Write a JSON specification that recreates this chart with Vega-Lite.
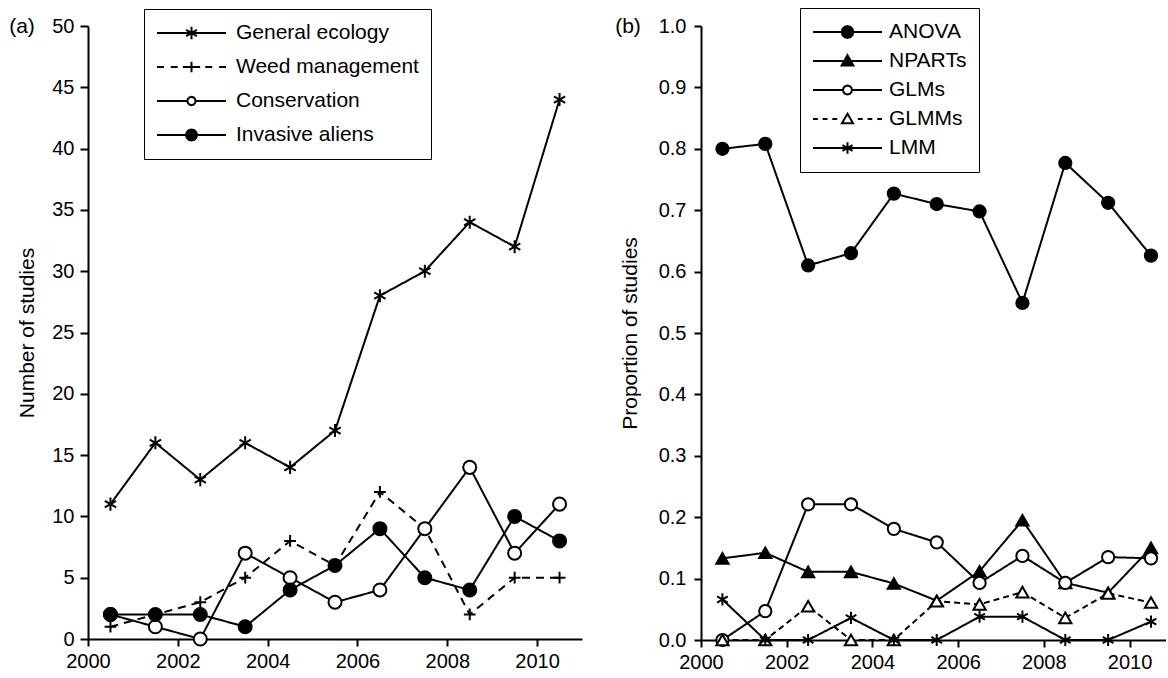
{
  "$schema": "https://vega.github.io/schema/vega-lite/v6.json",
  "padding": {"left": 9, "top": 7, "right": 0, "bottom": 0},
  "spacing": 33,
  "resolve": {"scale": {"x": "independent", "y": "independent", "shape": "independent", "fill": "independent", "strokeDash": "independent", "opacity": "independent"}, "legend": {"shape": "independent", "fill": "independent", "strokeDash": "independent", "opacity": "independent"}},
  "config": {
    "view": {"stroke": null},
    "font": "Liberation Sans",
    "axis": {"domainColor": "black", "domainWidth": 2, "tickColor": "black", "tickWidth": 2, "grid": false, "labelFont": "Liberation Sans", "labelFontSize": 20, "labelColor": "black", "titleFont": "Liberation Sans", "titleFontSize": 21, "titleFontWeight": "normal", "titleColor": "black", "labelOverlap": false},
    "legend": {"strokeColor": "black", "fillColor": "white", "padding": 12, "labelFont": "Liberation Sans", "labelFontSize": 21, "labelColor": "black", "symbolSize": 4761, "symbolStrokeWidth": 2, "symbolStrokeColor": "black", "symbolOpacity": 1, "clipHeight": 24, "labelLimit": 400}
  },
  "hconcat": [
    {
      "width": 494,
      "height": 613,
      "title": {"text": "(a)", "anchor": "start", "frame": "group", "align": "center", "baseline": "middle", "dx": -66, "offset": -39, "fontSize": 21, "font": "Liberation Sans", "fontWeight": "normal", "color": "black"},
      "data": {"values": [
        {"year": 2000.5, "n": 11, "topic": "General ecology"},
        {"year": 2001.5, "n": 16, "topic": "General ecology"},
        {"year": 2002.5, "n": 13, "topic": "General ecology"},
        {"year": 2003.5, "n": 16, "topic": "General ecology"},
        {"year": 2004.5, "n": 14, "topic": "General ecology"},
        {"year": 2005.5, "n": 17, "topic": "General ecology"},
        {"year": 2006.5, "n": 28, "topic": "General ecology"},
        {"year": 2007.5, "n": 30, "topic": "General ecology"},
        {"year": 2008.5, "n": 34, "topic": "General ecology"},
        {"year": 2009.5, "n": 32, "topic": "General ecology"},
        {"year": 2010.5, "n": 44, "topic": "General ecology"},
        {"year": 2000.5, "n": 1, "topic": "Weed management"},
        {"year": 2001.5, "n": 2, "topic": "Weed management"},
        {"year": 2002.5, "n": 3, "topic": "Weed management"},
        {"year": 2003.5, "n": 5, "topic": "Weed management"},
        {"year": 2004.5, "n": 8, "topic": "Weed management"},
        {"year": 2005.5, "n": 6, "topic": "Weed management"},
        {"year": 2006.5, "n": 12, "topic": "Weed management"},
        {"year": 2007.5, "n": 9, "topic": "Weed management"},
        {"year": 2008.5, "n": 2, "topic": "Weed management"},
        {"year": 2009.5, "n": 5, "topic": "Weed management"},
        {"year": 2010.5, "n": 5, "topic": "Weed management"},
        {"year": 2000.5, "n": 2, "topic": "Conservation"},
        {"year": 2001.5, "n": 1, "topic": "Conservation"},
        {"year": 2002.5, "n": 0, "topic": "Conservation"},
        {"year": 2003.5, "n": 7, "topic": "Conservation"},
        {"year": 2004.5, "n": 5, "topic": "Conservation"},
        {"year": 2005.5, "n": 3, "topic": "Conservation"},
        {"year": 2006.5, "n": 4, "topic": "Conservation"},
        {"year": 2007.5, "n": 9, "topic": "Conservation"},
        {"year": 2008.5, "n": 14, "topic": "Conservation"},
        {"year": 2009.5, "n": 7, "topic": "Conservation"},
        {"year": 2010.5, "n": 11, "topic": "Conservation"},
        {"year": 2000.5, "n": 2, "topic": "Invasive aliens"},
        {"year": 2001.5, "n": 2, "topic": "Invasive aliens"},
        {"year": 2002.5, "n": 2, "topic": "Invasive aliens"},
        {"year": 2003.5, "n": 1, "topic": "Invasive aliens"},
        {"year": 2004.5, "n": 4, "topic": "Invasive aliens"},
        {"year": 2005.5, "n": 6, "topic": "Invasive aliens"},
        {"year": 2006.5, "n": 9, "topic": "Invasive aliens"},
        {"year": 2007.5, "n": 5, "topic": "Invasive aliens"},
        {"year": 2008.5, "n": 4, "topic": "Invasive aliens"},
        {"year": 2009.5, "n": 10, "topic": "Invasive aliens"},
        {"year": 2010.5, "n": 8, "topic": "Invasive aliens"}
      ]},
      "encoding": {
        "x": {"field": "year", "type": "quantitative", "scale": {"domain": [2000, 2011], "nice": false, "zero": false},
              "axis": {"values": [2000, 2002, 2004, 2006, 2008, 2010], "format": "d", "title": null, "tickSize": 7, "labelPadding": 5, "labelFlush": false}},
        "y": {"field": "n", "type": "quantitative", "scale": {"domain": [0, 50], "nice": false},
              "axis": {"values": [0, 5, 10, 15, 20, 25, 30, 35, 40, 45, 50], "title": "Number of studies", "tickSize": 8, "labelPadding": 6, "titlePadding": 14}}
      },
      "layer": [
        {
          "mark": {"type": "line", "stroke": "black", "strokeWidth": 2},
          "encoding": {
            "strokeDash": {"field": "topic", "type": "nominal", "scale": {"domain": ["General ecology", "Weed management", "Conservation", "Invasive aliens"], "range": [[1, 0], [8, 6], [1, 0], [1, 0]]}, "legend": null}
          }
        },
        {
          "mark": {"type": "point", "filled": true, "stroke": "black", "strokeWidth": 2, "size": 170},
          "encoding": {
            "shape": {"field": "topic", "type": "nominal",
              "scale": {"domain": ["General ecology", "Weed management", "Conservation", "Invasive aliens"], "range": ["M0,-1V1M-0.87,-0.5L0.87,0.5M-0.87,0.5L0.87,-0.5", "M-0.9,0H0.9M0,-0.9V0.9", "circle", "circle"]}, "legend": null},
            "fill": {"field": "topic", "type": "nominal", "scale": {"domain": ["General ecology", "Weed management", "Conservation", "Invasive aliens"], "range": ["black", "black", "white", "black"]}, "legend": null},
            "opacity": {"field": "topic", "type": "nominal", "sort": ["General ecology", "Weed management", "Conservation", "Invasive aliens"], "scale": {"range": [1, 1, 1, 1]},
              "legend": {
                "title": null,
                "orient": "none", "legendX": 56, "legendY": -17, "labelOffset": 9, "rowPadding": 10,
                "symbolSize": 4761, "symbolStrokeWidth": 2, "symbolStrokeColor": "black", "symbolOpacity": 1,
                "symbolType": {"expr": "datum.value === 'General ecology' ? 'M-1,0H1M0,-0.18V0.18M-0.156,-0.09L0.156,0.09M-0.156,0.09L0.156,-0.09' : datum.value === 'Weed management' ? 'M-1,0H-0.8M-0.6,0H-0.4M-0.25,0H0.25M0,-0.15V0.15M0.4,0H0.6M0.8,0H1' : datum.value === 'Conservation' ? 'M-1,0H-0.12M0.12,0H1M0.12,0L0.104,0.06L0.06,0.104L0,0.12L-0.06,0.104L-0.104,0.06L-0.12,0L-0.104,-0.06L-0.06,-0.104L0,-0.12L0.06,-0.104L0.104,-0.06Z' : 'M-1,0H1M0.16,0L0.139,0.08L0.08,0.139L0,0.16L-0.08,0.139L-0.139,0.08L-0.16,0L-0.139,-0.08L-0.08,-0.139L0,-0.16L0.08,-0.139L0.139,-0.08Z'"},
                "symbolFillColor": {"expr": "datum.value === 'Conservation' ? 'white' : 'black'"}
              }}
          }
        }
      ]
    },
    {
      "width": 465,
      "height": 614,
      "title": {"text": "(b)", "anchor": "start", "frame": "group", "align": "center", "baseline": "middle", "dx": -73, "offset": -40, "fontSize": 21, "font": "Liberation Sans", "fontWeight": "normal", "color": "black"},
      "data": {"values": [
        {"year": 2000.5, "p": 0.800, "method": "ANOVA"},
        {"year": 2001.5, "p": 0.808, "method": "ANOVA"},
        {"year": 2002.5, "p": 0.610, "method": "ANOVA"},
        {"year": 2003.5, "p": 0.630, "method": "ANOVA"},
        {"year": 2004.5, "p": 0.727, "method": "ANOVA"},
        {"year": 2005.5, "p": 0.710, "method": "ANOVA"},
        {"year": 2006.5, "p": 0.698, "method": "ANOVA"},
        {"year": 2007.5, "p": 0.549, "method": "ANOVA"},
        {"year": 2008.5, "p": 0.777, "method": "ANOVA"},
        {"year": 2009.5, "p": 0.712, "method": "ANOVA"},
        {"year": 2010.5, "p": 0.626, "method": "ANOVA"},
        {"year": 2000.5, "p": 0.133, "method": "NPARTs"},
        {"year": 2001.5, "p": 0.142, "method": "NPARTs"},
        {"year": 2002.5, "p": 0.111, "method": "NPARTs"},
        {"year": 2003.5, "p": 0.111, "method": "NPARTs"},
        {"year": 2004.5, "p": 0.092, "method": "NPARTs"},
        {"year": 2005.5, "p": 0.064, "method": "NPARTs"},
        {"year": 2006.5, "p": 0.112, "method": "NPARTs"},
        {"year": 2007.5, "p": 0.195, "method": "NPARTs"},
        {"year": 2008.5, "p": 0.093, "method": "NPARTs"},
        {"year": 2009.5, "p": 0.077, "method": "NPARTs"},
        {"year": 2010.5, "p": 0.150, "method": "NPARTs"},
        {"year": 2000.5, "p": 0.000, "method": "GLMs"},
        {"year": 2001.5, "p": 0.047, "method": "GLMs"},
        {"year": 2002.5, "p": 0.221, "method": "GLMs"},
        {"year": 2003.5, "p": 0.221, "method": "GLMs"},
        {"year": 2004.5, "p": 0.181, "method": "GLMs"},
        {"year": 2005.5, "p": 0.159, "method": "GLMs"},
        {"year": 2006.5, "p": 0.093, "method": "GLMs"},
        {"year": 2007.5, "p": 0.137, "method": "GLMs"},
        {"year": 2008.5, "p": 0.093, "method": "GLMs"},
        {"year": 2009.5, "p": 0.135, "method": "GLMs"},
        {"year": 2010.5, "p": 0.133, "method": "GLMs"},
        {"year": 2000.5, "p": 0.000, "method": "GLMMs"},
        {"year": 2001.5, "p": 0.000, "method": "GLMMs"},
        {"year": 2002.5, "p": 0.055, "method": "GLMMs"},
        {"year": 2003.5, "p": 0.000, "method": "GLMMs"},
        {"year": 2004.5, "p": 0.000, "method": "GLMMs"},
        {"year": 2005.5, "p": 0.063, "method": "GLMMs"},
        {"year": 2006.5, "p": 0.058, "method": "GLMMs"},
        {"year": 2007.5, "p": 0.078, "method": "GLMMs"},
        {"year": 2008.5, "p": 0.036, "method": "GLMMs"},
        {"year": 2009.5, "p": 0.076, "method": "GLMMs"},
        {"year": 2010.5, "p": 0.061, "method": "GLMMs"},
        {"year": 2000.5, "p": 0.066, "method": "LMM"},
        {"year": 2001.5, "p": 0.000, "method": "LMM"},
        {"year": 2002.5, "p": 0.000, "method": "LMM"},
        {"year": 2003.5, "p": 0.036, "method": "LMM"},
        {"year": 2004.5, "p": 0.000, "method": "LMM"},
        {"year": 2005.5, "p": 0.000, "method": "LMM"},
        {"year": 2006.5, "p": 0.038, "method": "LMM"},
        {"year": 2007.5, "p": 0.038, "method": "LMM"},
        {"year": 2008.5, "p": 0.000, "method": "LMM"},
        {"year": 2009.5, "p": 0.000, "method": "LMM"},
        {"year": 2010.5, "p": 0.030, "method": "LMM"}
      ]},
      "encoding": {
        "x": {"field": "year", "type": "quantitative", "scale": {"domain": [2000, 2010.85], "nice": false, "zero": false},
              "axis": {"values": [2000, 2002, 2004, 2006, 2008, 2010], "format": "d", "title": null, "tickSize": 7, "labelPadding": 5, "labelFlush": false}},
        "y": {"field": "p", "type": "quantitative", "scale": {"domain": [0, 1], "nice": false},
              "axis": {"values": [0, 0.1, 0.2, 0.3, 0.4, 0.5, 0.6, 0.7, 0.8, 0.9, 1.0], "format": ".1f", "title": "Proportion of studies", "tickSize": 7, "labelPadding": 8, "titlePadding": 18}}
      },
      "layer": [
        {
          "mark": {"type": "line", "stroke": "black", "strokeWidth": 2},
          "encoding": {
            "strokeDash": {"field": "method", "type": "nominal", "scale": {"domain": ["ANOVA", "NPARTs", "GLMs", "GLMMs", "LMM"], "range": [[1, 0], [1, 0], [1, 0], [6, 4], [1, 0]]}, "legend": null}
          }
        },
        {
          "mark": {"type": "point", "filled": true, "stroke": "black", "strokeWidth": 2, "size": 150},
          "encoding": {
            "shape": {"field": "method", "type": "nominal",
              "scale": {"domain": ["ANOVA", "NPARTs", "GLMs", "GLMMs", "LMM"], "range": ["circle", "triangle-up", "circle", "triangle-up", "M0,-1V1M-0.87,-0.5L0.87,0.5M-0.87,0.5L0.87,-0.5"]}, "legend": null},
            "fill": {"field": "method", "type": "nominal", "scale": {"domain": ["ANOVA", "NPARTs", "GLMs", "GLMMs", "LMM"], "range": ["black", "black", "white", "white", "black"]}, "legend": null},
            "opacity": {"field": "method", "type": "nominal", "sort": ["ANOVA", "NPARTs", "GLMs", "GLMMs", "LMM"], "scale": {"range": [1, 1, 1, 1, 1]},
              "legend": {
                "title": null,
                "orient": "none", "legendX": 99, "legendY": -18, "labelOffset": 6, "rowPadding": 5,
                "symbolSize": 4761, "symbolStrokeWidth": 2, "symbolStrokeColor": "black", "symbolOpacity": 1,
                "symbolType": {"expr": "datum.value === 'ANOVA' ? 'M-1,0H1M0.17,0L0.147,0.085L0.085,0.147L0,0.17L-0.085,0.147L-0.147,0.085L-0.17,0L-0.147,-0.085L-0.085,-0.147L0,-0.17L0.085,-0.147L0.147,-0.085Z' : datum.value === 'NPARTs' ? 'M-1,0H1M0,-0.17L0.17,0.13L-0.17,0.13Z' : datum.value === 'GLMs' ? 'M-1,0H-0.13M0.13,0H1M0.13,0L0.113,0.065L0.065,0.113L0,0.13L-0.065,0.113L-0.113,0.065L-0.13,0L-0.113,-0.065L-0.065,-0.113L0,-0.13L0.065,-0.113L0.113,-0.065Z' : datum.value === 'GLMMs' ? 'M-1,0H-0.86M-0.72,0H-0.58M-0.44,0H-0.3M0.3,0H0.44M0.58,0H0.72M0.86,0H1M0,-0.15L0.16,0.12L-0.16,0.12Z' : 'M-1,0H1M0,-0.17V0.17M-0.147,-0.085L0.147,0.085M-0.147,0.085L0.147,-0.085'"},
                "symbolFillColor": {"expr": "(datum.value === 'GLMs' || datum.value === 'GLMMs') ? 'white' : 'black'"}
              }}
          }
        }
      ]
    }
  ]
}
